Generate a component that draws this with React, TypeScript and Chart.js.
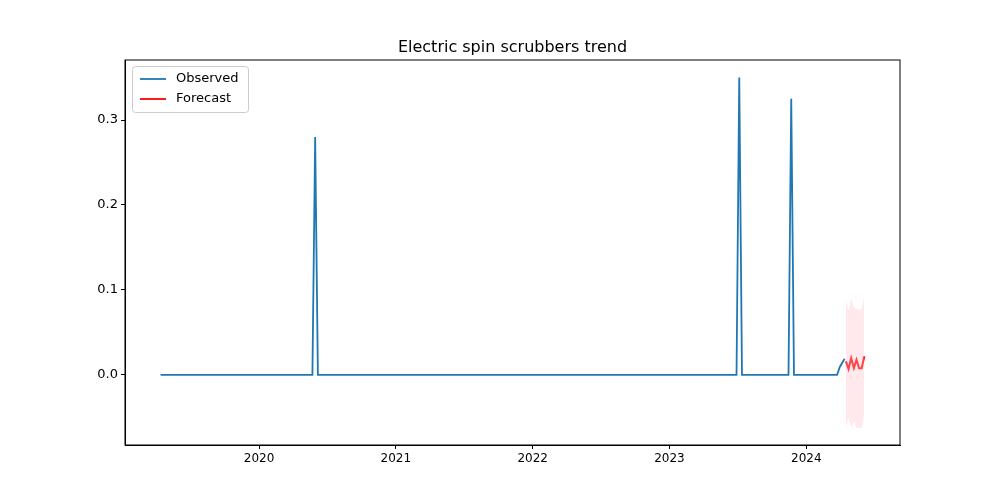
import { useEffect, useRef } from 'react';
import { Chart, registerables } from 'chart.js';

Chart.register(...registerables);

// decimal years
const observedX = [2019.28, 2020.39, 2020.41, 2020.43, 2023.49, 2023.51, 2023.53, 2023.87, 2023.89, 2023.91, 2024.225, 2024.245, 2024.28];
const observedY = [0, 0, 0.28, 0, 0, 0.35, 0, 0, 0.325, 0, 0, 0.0094, 0.019];

const forecastX = [2024.29, 2024.309, 2024.328, 2024.348, 2024.367, 2024.386, 2024.405, 2024.424];
const forecastY = [0.016, 0.007, 0.02, 0.008, 0.018, 0.008, 0.008, 0.022];
const upperY = [0.088, 0.076, 0.09, 0.08, 0.077, 0.077, 0.077, 0.093];
const lowerY = [-0.062, -0.05, -0.062, -0.055, -0.062, -0.062, -0.062, -0.046];

const yearTicks = [2020, 2021, 2022, 2023, 2024];
const FONT = 'DejaVu Sans';

const legendPlugin = {
  id: 'boxLegend',
  afterDraw(chart: Chart) {
    const { ctx, chartArea } = chart;
    const x = chartArea.left + 7;
    const y = chartArea.top + 6;
    ctx.save();
    ctx.fillStyle = 'rgba(255,255,255,0.8)';
    ctx.strokeStyle = '#cccccc';
    ctx.lineWidth = 1;
    ctx.beginPath();
    ctx.roundRect(x + 0.5, y + 0.5, 116, 46, 3);
    ctx.fill();
    ctx.stroke();
    const items = [['Observed', '#1f77b4'], ['Forecast', '#ff0000']];
    ctx.font = `13px "${FONT}"`;
    ctx.textBaseline = 'middle';
    items.forEach(([label, color], i) => {
      const ly = y + 13 + i * 20;
      ctx.strokeStyle = color;
      ctx.lineWidth = 1.8;
      ctx.beginPath();
      ctx.moveTo(x + 8, ly);
      ctx.lineTo(x + 34, ly);
      ctx.stroke();
      ctx.fillStyle = '#000';
      ctx.fillText(label, x + 44, ly);
    });
    // title centred over the plot
    ctx.font = `16px "${FONT}"`;
    ctx.textAlign = 'center';
    ctx.textBaseline = 'alphabetic';
    ctx.fillText('Electric spin scrubbers trend', (chartArea.left + chartArea.right) / 2, chartArea.top - 8);
    ctx.restore();
  },
};

export default function App() {
  const canvas = useRef<HTMLCanvasElement | null>(null);

  useEffect(() => {
    const node = canvas.current;
    if (!node) return;
    const tickGrid = { display: true, drawOnChartArea: false, drawTicks: true, tickLength: 4, tickColor: '#000' };
    const chart = new Chart(node, {
      type: 'line',
      data: {
        datasets: [
          {
            label: 'Upper',
            data: forecastX.map((x, i) => ({ x, y: upperY[i] })),
            borderWidth: 0,
            pointRadius: 0,
            backgroundColor: 'rgba(255,192,203,0.35)',
            fill: '+1',
          },
          {
            label: 'Lower',
            data: forecastX.map((x, i) => ({ x, y: lowerY[i] })),
            borderWidth: 0,
            pointRadius: 0,
            fill: false,
          },
          {
            label: 'Observed',
            data: observedX.map((x, i) => ({ x, y: observedY[i] })),
            borderColor: '#1f77b4',
            borderWidth: 1.8,
            pointRadius: 0,
            fill: false,
          },
          {
            label: 'Forecast',
            data: forecastX.map((x, i) => ({ x, y: forecastY[i] })),
            borderColor: '#ff0000',
            borderWidth: 2,
            pointRadius: 0,
            fill: false,
          },
        ],
      },
      options: {
        animation: false,
        responsive: false,
        layout: { padding: { top: 60, right: 100, bottom: 0, left: 0 } },
        plugins: {
          legend: { display: false },
          tooltip: { enabled: false },
        },
        scales: {
          x: {
            type: 'linear',
            min: 2019.02,
            max: 2024.685,
            afterBuildTicks: (s: any) => { s.ticks = yearTicks.map((v) => ({ value: v })); },
            afterFit: (s: any) => { s.height = 55; },
            grid: tickGrid,
            border: { color: '#000' },
            ticks: { color: '#000', font: { family: FONT, size: 12 }, callback: (v: any) => String(v), maxRotation: 0 },
          },
          y: {
            min: -0.0824,
            max: 0.3706,
            afterBuildTicks: (s: any) => { s.ticks = [0, 0.1, 0.2, 0.3].map((v) => ({ value: v })); },
            afterFit: (s: any) => { s.width = 125; },
            grid: tickGrid,
            border: { color: '#000' },
            ticks: { color: '#000', font: { family: FONT, size: 13 }, callback: (v: any) => Number(v).toFixed(1) },
          },
        },
      },
      plugins: [legendPlugin,
        {
          id: 'frame',
          afterDraw(c: Chart) {
            const { ctx, chartArea: a } = c;
            ctx.save();
            ctx.strokeStyle = '#000';
            ctx.lineWidth = 1;
            ctx.strokeRect(a.left, a.top, a.right - a.left, a.bottom - a.top);
            ctx.restore();
          },
        }],
    });
    return () => chart.destroy();
  }, []);

  return (
    <div style={{ position: 'absolute', left: 0, top: 0, width: 1000, height: 500, background: '#fff' }}>
      <canvas ref={canvas} width={1000} height={500} />
    </div>
  );
}
